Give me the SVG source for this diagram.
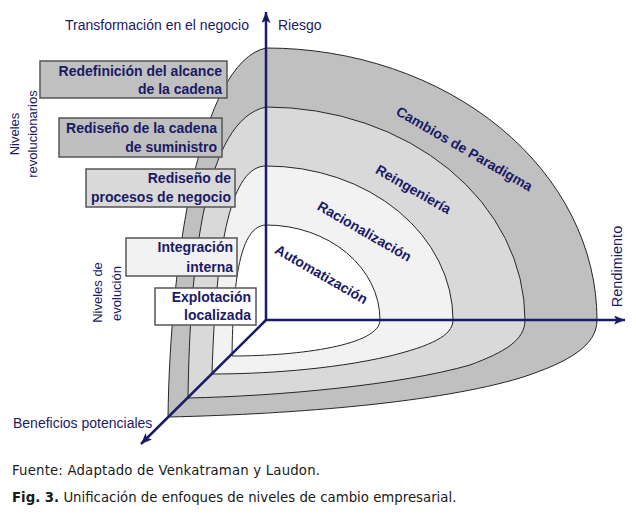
<svg xmlns="http://www.w3.org/2000/svg" width="636" height="524" viewBox="0 0 636 524">
<style>
.layer{stroke:#262626;stroke-width:1}
.axis{stroke:#1a1a66;stroke-width:2.5;fill:none}
.ax{font-family:"Liberation Sans",Arial,sans-serif;font-size:14px;fill:#1a1a66}
.lv{font-family:"Liberation Sans",Arial,sans-serif;font-size:13px;fill:#1a1a66}
.bx{stroke:#555555;stroke-width:1.5}
.bt{font-family:"Liberation Sans",Arial,sans-serif;font-size:14px;font-weight:bold;fill:#1a1a66;text-anchor:end}
.arc{font-family:"Liberation Sans",Arial,sans-serif;font-size:14px;font-weight:bold;fill:#1a1a66;text-anchor:middle}
.cap{font-family:"DejaVu Sans",Verdana,sans-serif;font-size:13.3px;fill:#1a1a1a}
</style>
<defs>
<marker id="arr" viewBox="0 0 11 9" refX="11" refY="4.5" markerWidth="11" markerHeight="9" orient="auto" markerUnits="userSpaceOnUse">
<path d="M0,0 L11,4.5 L0,9 L2.5,4.5 Z" fill="#1a1a66"/>
</marker>
</defs>
<rect width="636" height="524" fill="#ffffff"/>

<g id="layer-paradigma">
<path class="layer" fill="#c0c0c0" d="M266,48 A331 272 0 0 1 597,320 C597,345 570,362 520,378 C440,402 300,414 168,417 C170,260 200,62 266,48 Z"/>
</g>
<g id="layer-reingenieria">
<path class="layer" fill="#d9d9d9" d="M266,107 A259 213 0 0 1 525,320 C525,340 505,352 470,365 C400,385 280,396 188,398 C190,260 205,120 266,107 Z"/>
</g>
<g id="layer-racionalizacion">
<path class="layer" fill="#f2f2f2" d="M266,166 A187 154 0 0 1 453,320 C453,336 430,346 390,356 C330,370 260,374 212,374 C216,240 232,166 266,166 Z"/>
</g>
<g id="layer-automatizacion">
<path class="layer" fill="#ffffff" d="M266,225 A114 95 0 0 1 380,320 C380,345 300,356 232,356 C233,280 240,226 266,225 Z"/>
</g>

<g id="connectors">
<line class="axis" x1="266" y1="321" x2="266" y2="12" marker-end="url(#arr)"/>
<line class="axis" x1="265" y1="320" x2="625" y2="320" marker-end="url(#arr)"/>
<line class="axis" x1="266" y1="320" x2="141" y2="444" marker-end="url(#arr)"/>
</g>

<g id="arc-labels">
<text class="arc" transform="translate(462,153) rotate(30)">Cambios de Paradigma</text>
<text class="arc" transform="translate(411,193.5) rotate(30)">Reingeniería</text>
<text class="arc" transform="translate(362,235.5) rotate(30)">Racionalización</text>
<text class="arc" transform="translate(319,278.5) rotate(30)">Automatización</text>
</g>

<g id="box-redefinicion">
<rect class="bx" x="40" y="61" width="187" height="37" fill="#c0c0c0"/>
<text class="bt" x="222" y="76">Redefinición del alcance</text>
<text class="bt" x="222" y="94">de la cadena</text>
</g>
<g id="box-rediseno-cadena">
<rect class="bx" x="59" y="118" width="163" height="39" fill="#bfbfbf"/>
<text class="bt" x="217" y="133">Rediseño de la cadena</text>
<text class="bt" x="217" y="152">de suministro</text>
</g>
<g id="box-rediseno-procesos">
<rect class="bx" x="86" y="169" width="149" height="38" fill="#d9d9d9"/>
<text class="bt" x="231" y="183">Rediseño de</text>
<text class="bt" x="231" y="202">procesos de negocio</text>
</g>
<g id="box-integracion">
<rect class="bx" x="126" y="238" width="111" height="38" fill="#f2f2f2"/>
<text class="bt" x="233" y="252">Integración</text>
<text class="bt" x="233" y="271.5">interna</text>
</g>
<g id="box-explotacion">
<rect class="bx" x="155" y="288" width="101" height="37" fill="#ffffff"/>
<text class="bt" x="251" y="302">Explotación</text>
<text class="bt" x="251" y="320">localizada</text>
</g>

<g id="axis-labels">
<text class="ax" x="65" y="30">Transformación en el negocio</text>
<text class="ax" x="278" y="30">Riesgo</text>
<text class="ax" x="13" y="428">Beneficios potenciales</text>
<text class="ax" style="font-size:14.5px" text-anchor="middle" transform="translate(622,266.5) rotate(-90)">Rendimiento</text>
<text class="lv" text-anchor="middle" transform="translate(18.5,134) rotate(-90)">Niveles</text>
<text class="lv" text-anchor="middle" transform="translate(36.5,134) rotate(-90)">revolucionarios</text>
<text class="lv" text-anchor="middle" transform="translate(101.5,292.5) rotate(-90)">Niveles de</text>
<text class="lv" text-anchor="middle" transform="translate(120.5,293.5) rotate(-90)">evolución</text>
</g>

<g id="captions">
<text class="cap" x="12" y="475" textLength="308">Fuente: Adaptado de Venkatraman y Laudon.</text>
<text class="cap" x="12" y="502"><tspan font-weight="bold">Fig. 3.</tspan> Unificación de enfoques de niveles de cambio empresarial.</text>
</g>
</svg>
